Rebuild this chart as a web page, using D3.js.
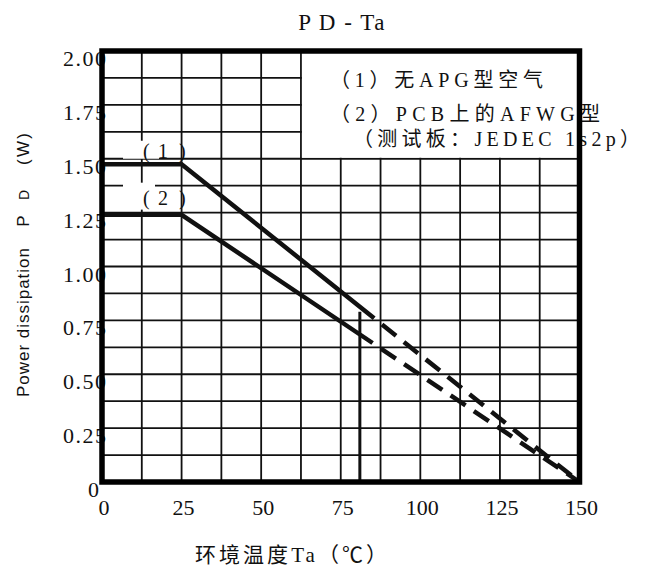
<!DOCTYPE html>
<html>
<head>
<meta charset="utf-8">
<script src="https://cdn.jsdelivr.net/npm/d3@7"></script>
<style>
  html, body { margin: 0; padding: 0; background: #fff; }
  svg { display: block; }
</style>
</head>
<body>
<div id="chart"></div>
<script>
// ---- data ----
const title = "P D - Ta";
const xTicks = [0, 25, 50, 75, 100, 125, 150];
const yTicks = [0, 0.25, 0.5, 0.75, 1.0, 1.25, 1.5, 1.75, 2.0];
const xGrid = [12.5, 25, 37.5, 50, 62.5, 75, 87.5, 100, 112.5, 125, 137.5];
const yGrid = [0.125, 0.25, 0.375, 0.5, 0.625, 0.75, 0.875, 1.0, 1.125, 1.25, 1.375, 1.5, 1.625, 1.75, 1.875];
// curve (1): solid part then dashed part
const curve1SolidTa = [0, 25, 85.5];
const curve1SolidPd = [1.475, 1.475, 0.76];
const curve1DashTa = [85.5, 150];
const curve1DashPd = [0.76, 0];
// curve (2)
const curve2SolidTa = [0, 25, 85];
const curve2SolidPd = [1.24, 1.24, 0.645];
const curve2DashTa = [85, 150];
const curve2DashPd = [0.645, 0];
// vertical marker
const markerTa = [81, 81];
const markerPd = [0, 0.79];
const curveLabels = ["1", "2"];
const curveLabelPd = [1.535, 1.32];
const legendLines = ["（1）无APG型空气", "（2）PCB上的AFWG型", "（测试板：JEDEC 1s2p）"];
const xTitle = "环境温度Ta（℃）";
const yTitleParts = ["Power dissipation", "P", "D", "(W)"];

// ---- layout ----
const W = 645, H = 566;
const svg = d3.select("#chart").append("svg").attr("width", W).attr("height", H);
const x = d3.scaleLinear().domain([0, 150]).range([102, 579.5]);
const y = d3.scaleLinear().domain([0, 2]).range([482, 51]);
const ink = "#111";
const serif = "'Liberation Serif', 'Times New Roman', 'Noto Sans CJK SC', serif";
const cjk = "'Liberation Serif', 'Noto Sans CJK SC', serif";

// title
svg.append("text").attr("x", 342).attr("y", 30).attr("text-anchor", "middle")
  .attr("font-family", serif).attr("font-size", 23).attr("letter-spacing", 1.5).attr("fill", ink).text(title);

// grid
const g = svg.append("g");
g.selectAll(".vg").data(xGrid).join("line")
  .attr("x1", d => x(d)).attr("x2", d => x(d)).attr("y1", y(0)).attr("y2", y(2))
  .attr("stroke", ink).attr("stroke-width", 1.8);
g.selectAll(".hg").data(yGrid).join("line")
  .attr("x1", x(0)).attr("x2", x(150)).attr("y1", d => y(d)).attr("y2", d => y(d))
  .attr("stroke", ink).attr("stroke-width", 1.8);

// legend white box (covers grid in upper right)
svg.append("rect").attr("x", x(62.5) + 1).attr("y", y(2))
  .attr("width", x(150) - x(62.5) - 1).attr("height", y(1.5) - y(2) - 1).attr("fill", "#fff");

// white boxes behind curve labels
svg.append("rect").attr("x", 123).attr("y", y(1.5) - 18).attr("width", 36).attr("height", 18).attr("fill", "#fff");
svg.append("rect").attr("x", 123).attr("y", y(1.375) - 3).attr("width", 32).attr("height", y(1.25) - y(1.375)).attr("fill", "#fff");

// curves
const line = d3.line().x(d => x(d[0])).y(d => y(d[1]));
function pts(a, b) { return a.map((v, i) => [v, b[i]]); }
svg.append("path").attr("d", line(pts(curve1SolidTa, curve1SolidPd)))
  .attr("fill", "none").attr("stroke", ink).attr("stroke-width", 4.5);
svg.append("path").attr("d", line(pts(curve2SolidTa, curve2SolidPd)))
  .attr("fill", "none").attr("stroke", ink).attr("stroke-width", 4.5);
svg.append("path").attr("d", line(pts(curve1DashTa, curve1DashPd)))
  .attr("fill", "none").attr("stroke", ink).attr("stroke-width", 4.5)
  .attr("stroke-dasharray", "18,10").attr("stroke-dashoffset", 18);
svg.append("path").attr("d", line(pts(curve2DashTa, curve2DashPd)))
  .attr("fill", "none").attr("stroke", ink).attr("stroke-width", 4.5)
  .attr("stroke-dasharray", "18,10").attr("stroke-dashoffset", 18);
svg.append("path").attr("d", line(pts(markerTa, markerPd)))
  .attr("fill", "none").attr("stroke", ink).attr("stroke-width", 3);

// curve labels
curveLabels.forEach((t, i) => {
  const yy = y(curveLabelPd[i]) + 7;
  svg.append("text").attr("font-family", serif).attr("font-size", 20).attr("fill", ink)
    .attr("x", "143 158 179").attr("y", yy).text("(" + t + ")");
});

// legend text
const legendX = [330, 330, 353];
const legendY = [87, 121, 146];
const legendLen = [213, 270, 287];
legendLines.forEach((t, i) => {
  svg.append("text").attr("x", legendX[i]).attr("y", legendY[i])
    .attr("font-family", cjk).attr("font-size", 20).attr("fill", ink)
    .attr("textLength", legendLen[i]).attr("lengthAdjust", "spacing").text(t);
});

// tick labels
svg.selectAll(".yl").data(yTicks).join("text")
  .attr("x", d => d === 0 ? 88 : 63).attr("y", d => y(d) + 15)
  .attr("font-family", serif).attr("font-size", 22).attr("letter-spacing", 1.5).attr("fill", ink)
  .text(d => d === 0 ? "0" : d3.format(".2f")(d));
svg.selectAll(".xl").data(xTicks).join("text")
  .attr("x", d => x(d) + 2).attr("y", 515).attr("text-anchor", "middle")
  .attr("font-family", serif).attr("font-size", 22).attr("fill", ink)
  .text(d => d);

// border
svg.append("rect").attr("x", x(0)).attr("y", y(2)).attr("width", x(150) - x(0)).attr("height", y(0) - y(2))
  .attr("fill", "none").attr("stroke", "#000").attr("stroke-width", 5.5);

// axis titles
svg.append("text").attr("x", 195).attr("y", 562)
  .attr("font-family", cjk).attr("font-size", 21).attr("fill", ink)
  .attr("textLength", 192).attr("lengthAdjust", "spacing").text(xTitle);

const yCenters = [322.5, 221, 195, 149];
const yLens = [149, null, null, 32];
yTitleParts.forEach((t, i) => {
  const tx = svg.append("text")
    .attr("transform", `translate(29,${yCenters[i]}) rotate(-90)`)
    .attr("text-anchor", "middle")
    .attr("font-family", "'Liberation Sans', Arial, sans-serif").attr("font-size", i === 2 ? 14 : 17)
    .attr("fill", ink).text(t);
  if (yLens[i]) tx.attr("textLength", yLens[i]).attr("lengthAdjust", "spacing");
});
</script>
</body>
</html>
